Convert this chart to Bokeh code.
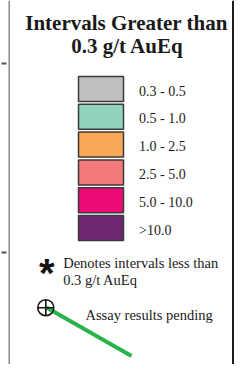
from bokeh.plotting import figure
from bokeh.models import Range1d, ColumnDataSource
from bokeh.core.properties import value
from bokeh.embed import file_html
from bokeh.resources import INLINE

# ---- data ----
title_lines = ["Intervals Greater than", "0.3 g/t AuEq"]
categories = ["0.3 - 0.5", "0.5 - 1.0", "1.0 - 2.5", "2.5 - 5.0", "5.0 - 10.0", ">10.0"]
colors = ["#bfbfbf", "#8fd3bd", "#f9a857", "#f37a79", "#ec0a77", "#6e2670"]
note_lines = ["Denotes intervals less than", "0.3 g/t AuEq"]
pending_label = "Assay results pending"

SERIF = value("Liberation Serif")

p = figure(width=234, height=364, output_backend="svg", toolbar_location=None,
           x_range=Range1d(0, 234), y_range=Range1d(364, 0),
           min_border=0, outline_line_color=None)
p.axis.visible = False
p.grid.visible = False
p.background_fill_color = "white"
p.border_fill_color = "white"

# frame lines and side ticks
p.segment(x0=[8.7], y0=[0], x1=[8.7], y1=[364], line_color="#8a8a8a", line_width=1.5)
p.segment(x0=[232.5], y0=[0], x1=[232.5], y1=[364], line_color="#1e1e1e", line_width=2)
p.segment(x0=[1, 1], y0=[63, 252], x1=[6, 6], y1=[63, 252], line_color="#555555", line_width=2)

# title
p.text(x=[126, 127], y=[22.5, 45.5], text=title_lines, text_font=SERIF,
       text_font_style="bold", text_font_size="21px", text_align="center",
       text_baseline="alphabetic", text_color="#1a1a1a")

# legend swatches
pitch = 27.8
ys = [88.5 + pitch * i for i in range(len(categories))]
src = ColumnDataSource(dict(y=ys, yb=[y + 2.0 for y in ys], color=colors, label=categories))
p.rect(x=100.5, y="y", width=45, height=25, fill_color="color", line_color="#3a3a3a",
       line_width=1.5, source=src)
p.text(x=138.5, y="yb", text="label", source=src, text_font=SERIF, text_font_size="14px",
       text_baseline="alphabetic", text_color="#1a1a1a")

# asterisk note
p.text(x=[38.5], y=[272], text=["*"], text_font=value("Liberation Sans"), text_font_style="bold",
       text_font_size="40px", text_baseline="alphabetic", text_color="#111111")
p.text(x=[62.7, 62.7], y=[262, 279.5], text=note_lines, text_font=SERIF,
       text_font_size="14.5px", text_baseline="alphabetic", text_color="#1a1a1a")

# pending symbol
p.line(x=[46, 131], y=[307, 355.5], line_color="#2ab34b", line_width=4)
p.scatter(x=[45.3], y=[307.2], marker="circle_cross", size=16, fill_color=None,
          line_color="#111111", line_width=1.6)
p.text(x=[85], y=[314.5], text=[pending_label], text_font=SERIF, text_font_size="14.5px",
       text_baseline="alphabetic", text_color="#1a1a1a")

open("out.html", "w").write(file_html(p, INLINE))
